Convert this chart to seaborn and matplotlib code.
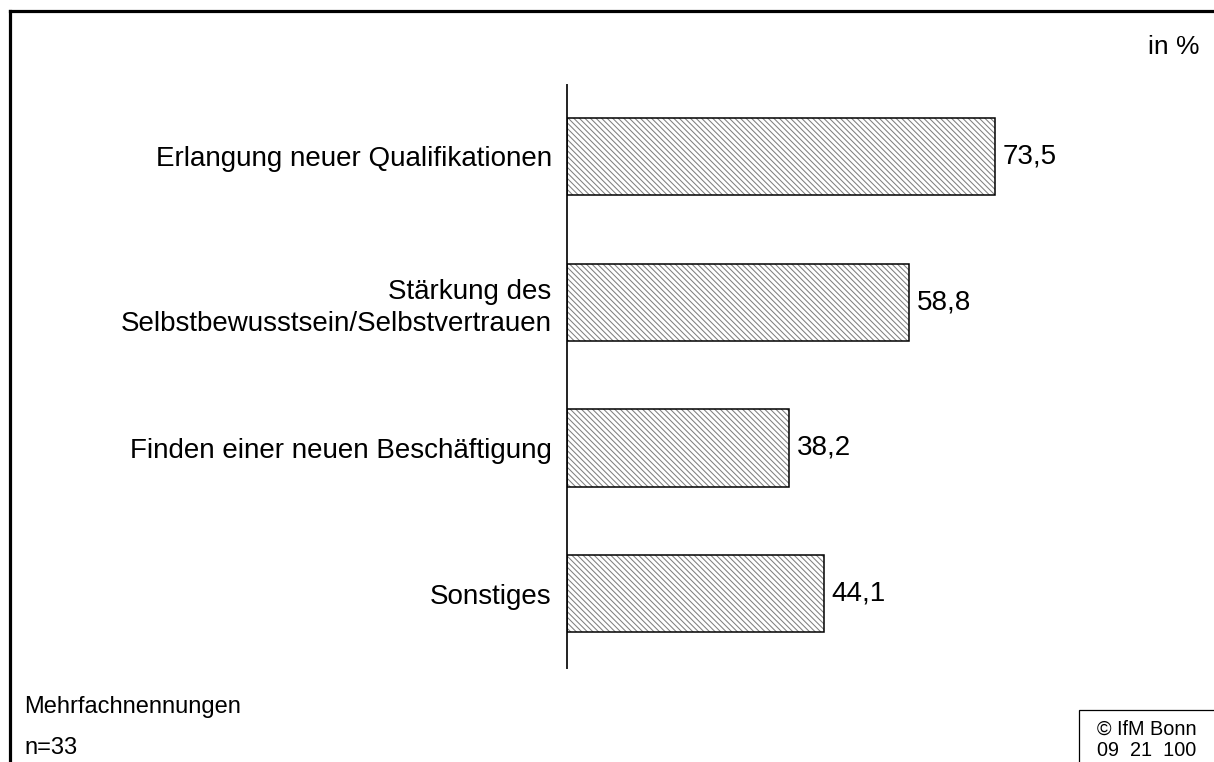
import matplotlib
matplotlib.use("Agg")
import matplotlib.pyplot as plt
from matplotlib.patches import Rectangle
from matplotlib.lines import Line2D
import seaborn as sns
import pandas as pd

categories = [
    "Erlangung neuer Qualifikationen",
    "Stärkung des\nSelbstbewusstsein/Selbstvertrauen",
    "Finden einer neuen Beschäftigung",
    "Sonstiges",
]
values = [73.5, 58.8, 38.2, 44.1]
value_labels = ["73,5", "58,8", "38,2", "44,1"]

sns.set_theme(style="white")
plt.rcParams["font.family"] = ["Liberation Sans", "DejaVu Sans"]
plt.rcParams["hatch.linewidth"] = 0.75
plt.rcParams["text.color"] = "black"

df = pd.DataFrame({"Kategorie": categories, "Wert": values})

fig = plt.figure(figsize=(12.14, 7.62), dpi=100)
ax = fig.add_axes([567 / 1214, (762 - 668) / 762, 582 / 1214, (668 - 85) / 762])

sns.barplot(data=df, y="Kategorie", x="Wert", orient="h", ax=ax,
            color="white", edgecolor="#808080", linewidth=0,
            hatch="\\\\\\\\\\\\", width=0.53)

# crisp black outline around each hatched bar
for p in ax.patches:
    ax.add_patch(Rectangle(p.get_xy(), p.get_width(), p.get_height(),
                           fill=False, edgecolor="black", linewidth=1.1, zorder=3))

for i, (v, lab) in enumerate(zip(values, value_labels)):
    ax.text(v + 1.3, i, lab, va="center", ha="left", fontsize=20, color="black")

ax.set_xlim(0, 100)
ax.set_ylim(3.51, -0.49)
ax.set_xlabel("")
ax.set_ylabel("")
ax.set_xticks([])
ax.tick_params(axis="y", length=0, pad=11, labelsize=20, labelcolor="black")
for t in ax.get_yticklabels():
    t.set_linespacing(1.3)
for s in ["top", "right", "bottom"]:
    ax.spines[s].set_visible(False)
ax.spines["left"].set_color("#222222")
ax.spines["left"].set_linewidth(1.4)

# outer frame (left and top edges)
fig.add_artist(Line2D([9.5 / 1214, 9.5 / 1214], [0, 1 - 10.5 / 762],
                      transform=fig.transFigure, color="black", linewidth=2.3,
                      solid_capstyle="projecting"))
fig.add_artist(Line2D([9.5 / 1214, 1], [1 - 10.5 / 762, 1 - 10.5 / 762],
                      transform=fig.transFigure, color="black", linewidth=2.3,
                      solid_capstyle="projecting"))

fig.text(1200 / 1214, 1 - 47 / 762, "in %", ha="right", va="center", fontsize=19, color="black")
fig.text(24 / 1214, 1 - 707 / 762, "Mehrfachnennungen", ha="left", va="center", fontsize=17, color="black")
fig.text(24 / 1214, 1 - 748 / 762, "n=33", ha="left", va="center", fontsize=17, color="black")

# copyright box at lower right
fig.add_artist(Rectangle((1079 / 1214, -0.01), 0.2, (762 - 710) / 762 + 0.01,
                         transform=fig.transFigure, fill=False,
                         edgecolor="black", linewidth=0.9))
fig.text(1097 / 1214, 1 - 729 / 762, "© IfM Bonn", ha="left", va="center", fontsize=14.3, color="black")
fig.text(1097 / 1214, 1 - 751 / 762, "09  21  100", ha="left", va="center", fontsize=14.3, color="black")

fig.savefig("out.png", dpi=100)
